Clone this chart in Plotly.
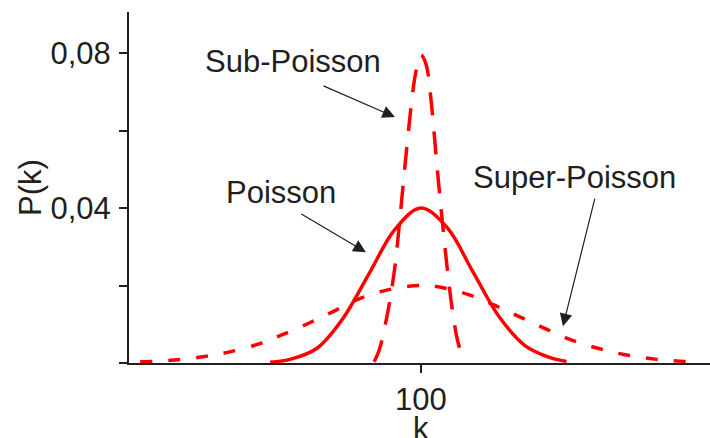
import plotly.graph_objects as go

# P(k)
k_sub = [91, 92, 93, 94, 95, 96, 97, 98, 99, 100, 101, 102, 103, 104, 105, 106, 107, 108]
p_sub = [0.0003, 0.0035, 0.0090, 0.0160, 0.0250, 0.0380, 0.0520, 0.0650, 0.0750, 0.0795,
         0.0770, 0.0670, 0.0520, 0.0380, 0.0250, 0.0140, 0.0060, 0.0015]

k_poisson = [71, 75, 80, 85, 90, 95, 100, 105, 110, 115, 120, 125, 128]
p_poisson = [0.0002, 0.0010, 0.0038, 0.0115, 0.0230, 0.0345, 0.0400,
             0.0350, 0.0235, 0.0120, 0.0045, 0.0013, 0.0004]

k_super = [46, 52, 58, 63, 69, 73, 78, 83, 88, 94, 100, 104, 109, 114, 119, 124,
           129, 134, 139, 145, 152]
p_super = [0.0003, 0.0007, 0.0016, 0.0028, 0.0050, 0.0071, 0.0100, 0.0132, 0.0165, 0.0190,
           0.0200, 0.0195, 0.0177, 0.0150, 0.0119, 0.0088, 0.0059, 0.0038, 0.0022, 0.0010, 0.0003]

y_tickvals = [0, 0.02, 0.04, 0.06, 0.08]
y_ticktext = ["", "", "0,04", "", "0,08"]
x_tickvals = [100]
x_ticktext = ["100"]

RED = "#ff0000"
INK = "#231f20"
FONT = "Liberation Sans, Arial, sans-serif"

fig = go.Figure()
fig.add_trace(go.Scatter(x=k_super, y=p_super, mode="lines", line_shape="spline",
                         line=dict(color=RED, width=3.5, dash="12px,16px")))
fig.add_trace(go.Scatter(x=k_poisson, y=p_poisson, mode="lines", line_shape="spline",
                         line=dict(color=RED, width=3.5)))
fig.add_trace(go.Scatter(x=k_sub, y=p_sub, mode="lines", line_shape="spline",
                         line=dict(color=RED, width=3.5, dash="23px,16px")))

# curve labels
labels = [("Sub-Poisson", 75.4, 0.0777), ("Poisson", 73.1, 0.0439), ("Super-Poisson", 129.6, 0.0480)]
for text, x, y in labels:
    fig.add_annotation(x=x, y=y, text=text, showarrow=False,
                       font=dict(family=FONT, size=31, color=INK))

# pointer arrows: (tail x, tail y, head x, head y)
arrows = [(80.96, 0.0717, 95.0, 0.0635),
          (76.7, 0.0387, 89.4, 0.0286),
          (133.5, 0.0428, 127.3, 0.0095)]
for ax_, ay_, x, y in arrows:
    fig.add_annotation(x=x, y=y, ax=ax_, ay=ay_, xref="x", yref="y", axref="x", ayref="y",
                       text="", showarrow=True, arrowhead=2, arrowsize=2.1,
                       arrowwidth=1.2, arrowcolor=INK, standoff=0)

# x-axis title sits just under the "100" tick label
fig.add_annotation(x=100, y=-0.130, xref="x", yref="paper", text="k", showarrow=False,
                   xanchor="center", yanchor="top",
                   font=dict(family=FONT, size=31, color=INK))

fig.update_layout(
    width=710, height=438,
    margin=dict(l=129, r=0, t=12, b=75, autoexpand=False),
    paper_bgcolor="white", plot_bgcolor="white",
    showlegend=False,
    font=dict(family=FONT, size=31, color=INK),
    xaxis=dict(range=[43.85, 155.58], showgrid=False, zeroline=False, automargin=False,
               showline=True, linecolor=INK, linewidth=2,
               ticks="outside", ticklen=8, tickwidth=2, tickcolor=INK,
               tickvals=x_tickvals, ticktext=x_ticktext),
    yaxis=dict(range=[0, 0.0906], showgrid=False, zeroline=False, automargin=False,
               showline=True, linecolor=INK, linewidth=2,
               ticks="outside", ticklen=8, tickwidth=2, tickcolor=INK,
               tickvals=y_tickvals, ticktext=y_ticktext, ticklabelstandoff=2,
               title=dict(text="P(k)", standoff=0, font=dict(size=31))),
)

fig.write_html("out.html")
